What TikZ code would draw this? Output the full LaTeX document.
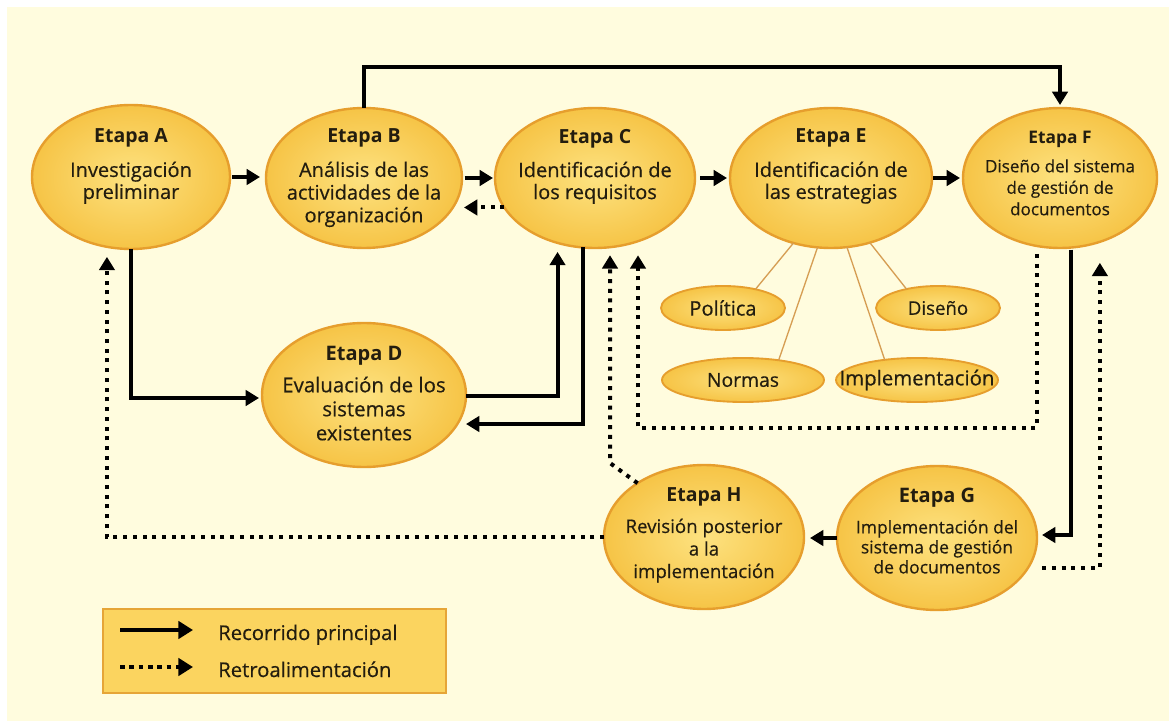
\documentclass[tikz,border=0pt]{standalone}
\usepackage{fontspec}
\setmainfont{Open Sans}[UprightFeatures={FakeBold=0.45}]
\usetikzlibrary{arrows.meta,calc,shapes.geometric}
\definecolor{bg}{RGB}{255,252,222}
\definecolor{ellin}{RGB}{253,226,128}
\definecolor{ellout}{RGB}{246,196,70}
\definecolor{ellbd}{RGB}{230,158,45}
\definecolor{ink}{RGB}{35,29,15}
\definecolor{thinline}{RGB}{214,158,84}
\definecolor{legfill}{RGB}{251,212,95}
\definecolor{legbd}{RGB}{230,165,55}
\newcommand{\ttl}[2]{{\fontsize{#1}{#1}\selectfont\bfseries #2}}
\newcommand{\nolsl}{\lineskiplimit-50pt\relax}
\begin{document}
\begin{tikzpicture}[x=0.75pt,y=-0.75pt,
  stage/.style 2 args={ellipse, draw=ellbd, line width=1.8pt, inner color=ellin, outer color=ellout,
    minimum width=#1*1.5pt, minimum height=#2*1.5pt, inner sep=0pt, outer sep=0pt},
  small/.style 2 args={ellipse, draw=ellbd, line width=1.4pt, inner color=ellin, outer color=ellout,
    minimum width=#1*1.5pt, minimum height=#2*1.5pt, inner sep=0pt, outer sep=0pt, text=ink},
  txt/.style={text=ink, align=center, inner sep=0pt, outer sep=0pt, anchor=north},
  main/.style={draw=black, line width=3pt, -{Triangle[width=11.5pt,length=10pt]}},
  fb/.style={draw=black, line width=3pt, dash pattern=on 3pt off 4.3pt, -{Triangle[width=11.5pt,length=10pt]}},
  legmain/.style={draw=black, line width=3.4pt, -{Triangle[width=13pt,length=11pt]}},
  legfb/.style={draw=black, line width=3.4pt, dash pattern=on 3.4pt off 3.6pt, -{Triangle[width=13pt,length=11pt]}},
  conn/.style={draw=thinline, line width=1pt}
]
\useasboundingbox (0,0) rectangle (1169,723);
\fill[white] (0,0) rectangle (1169,723);
\fill[bg] (7,7) rectangle (1169,721);

% stages
\node[stage={99}{72}] (A) at (131,177) {};
\node[stage={98}{70}] (B) at (364,178) {};
\node[stage={100}{70}] (C) at (595,178) {};
\node[stage={101}{70}] (E) at (831,178) {};
\node[stage={97}{70}] (F) at (1060,178) {};
\node[stage={102}{72}] (D) at (364,395) {};
\node[stage={100}{72}] (H) at (704,537) {};
\node[stage={100}{72}] (G) at (937,538) {};

% stage texts
\node[txt, font={\fontsize{15}{16.5}\selectfont\nolsl}] (tA) at (131,129)
  {\ttl{14.6}{Etapa A}\\[9pt]Investigación\\preliminar};
\node[txt, font={\fontsize{15}{17}\selectfont\nolsl}] (tB) at (364,129)
  {\ttl{14.6}{Etapa B}\\[8.5pt]Análisis de las\\actividades de la\\organización};
\node[txt, font={\fontsize{15}{16.5}\selectfont\nolsl}] (tC) at (595,129)
  {\ttl{14.6}{Etapa C}\\[9pt]Identificación de\\los requisitos};
\node[txt, font={\fontsize{15}{16.5}\selectfont\nolsl}] (tE) at (831,129)
  {\ttl{14.6}{Etapa E}\\[9pt]Identificación de\\las estrategias};
\node[txt, font={\fontsize{12.8}{16.1}\selectfont\nolsl}] (tF) at (1060,131)
  {\ttl{13}{Etapa F}\\[5.6pt]Diseño del sistema\\de gestión de\\documentos};
\node[txt, font={\fontsize{15.3}{18}\selectfont\nolsl}] (tD) at (364,346)
  {\ttl{15}{Etapa D}\\[6pt]Evaluación de los\\sistemas\\existentes};
\node[txt, font={\fontsize{14}{16.9}\selectfont\nolsl}] (tH) at (704,488)
  {\ttl{14.6}{Etapa H}\\[6.4pt]Revisión posterior\\a la\\implementación};
\node[txt, font={\fontsize{13.1}{15}\selectfont\nolsl}] (tG) at (937,488)
  {\ttl{15}{Etapa G}\\[8.2pt]Implementación del\\sistema de gestión\\de documentos};

% strategy ellipses
\node[small={62}{22}, font=\fontsize{15}{16}\selectfont] (pol) at (723,308) {\makebox[0pt]{Política}};
\node[small={62}{22}, font=\fontsize{14}{15}\selectfont] (dis) at (938,308) {\makebox[0pt]{Diseño}};
\node[small={81}{22}, font=\fontsize{14.5}{15}\selectfont] (nor) at (743,380) {\makebox[0pt]{Normas}};
\node[small={81}{22}, font=\fontsize{15.3}{16}\selectfont] (imp) at (917,380) {\makebox[0pt]{Implementación}};
\draw[conn] (E.240) -- (pol.30);
\draw[conn] (E.259) -- (nor.29);
\draw[conn] (E.283) -- (imp.148);
\draw[conn] (E.301) -- (dis.149);

% main path
\draw[main, shorten <=1.5pt, shorten >=4.5pt] (A.east) -- (A.east -| B.west);
\draw[main, shorten <=2pt, shorten >=1.5pt] (B.east) -- (B.east -| C.west);
\draw[main, shorten <=3.75pt, shorten >=2.25pt] (C.east) -- (C.east -| E.west);
\draw[main, shorten <=0.75pt, shorten >=2.25pt] (E.east) -- (E.east -| F.west);
\coordinate (top) at (700,67);
\draw[main, shorten >=2.25pt] (B.north) -- (B.north |- top) -| (F.north);
\draw[main, shorten >=2.25pt] (A.south) |- ([yshift=-2.25pt]D.west);
\draw[main, shorten >=6.75pt] ([yshift=-0.75pt]D.east) -| (C.240);
\draw[main] (C.260) |- ([yshift=-21.75pt]D.east);
\draw[main, shorten <=1.5pt, shorten >=3.75pt] (F.279) |- ([yshift=2.25pt]G.east);
\draw[main, shorten >=4.5pt] (G.west) -- (G.west -| H.east);

% feedback
\draw[fb, shorten >=1.5pt] (C.198) -- (C.198 -| B.east);
\coordinate (hk) at (610,463);
\draw[fb, shorten >=6pt] (H.141) -- (hk) -- (hk |- C.282);
\coordinate (fbl) at (638,428);
\draw[fb, shorten <=6pt, shorten >=10.5pt] (F.251) |- (fbl) -- (fbl |- C.304);
\draw[fb, shorten <=10.5pt, shorten >=15.75pt] (G.-18) -| (F.302);
\draw[fb, shorten >=7.5pt] (H.west) -| (A.251);

% legend
\node[draw=legbd, line width=1.5pt, fill=legfill, minimum width=343*0.75pt, minimum height=84*0.75pt,
  anchor=north west, inner sep=0pt] (leg) at (102,608) {};
\node[anchor=base west, text=ink, inner sep=0pt, font=\fontsize{15.2}{16}\selectfont] (l1) at (218,640) {Recorrido principal};
\node[anchor=base west, text=ink, inner sep=0pt, font=\fontsize{15.2}{16}\selectfont] (l2) at (218,677) {Retroalimentación};
\coordinate (l1a) at (120,630); \coordinate (l1b) at (193,630);
\coordinate (l2a) at (120,667); \coordinate (l2b) at (193,667);
\draw[legmain] (l1a) -- (l1b);
\draw[legfb] (l2a) -- (l2b);
\end{tikzpicture}
\end{document}
